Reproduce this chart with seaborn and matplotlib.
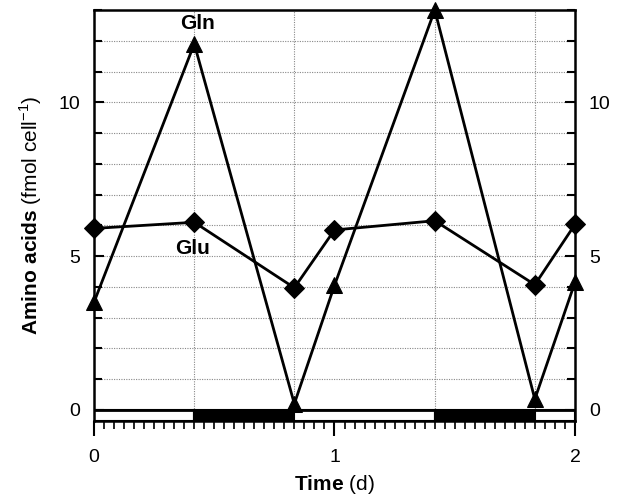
import numpy as np
import pandas as pd
import matplotlib
matplotlib.use("Agg")
import matplotlib.pyplot as plt
from matplotlib.ticker import MultipleLocator, FixedLocator
import seaborn as sns

# ---- data ----
time_d = [0.0, 0.417, 0.833, 1.0, 1.417, 1.833, 2.0]
gln = [3.5, 11.9, 0.2, 4.05, 13.0, 0.35, 4.15]
glu = [5.9, 6.1, 3.97, 5.85, 6.15, 4.07, 6.03]

# light/dark periods (start, end, dark?)
period_start = [0.0, 0.417, 0.833, 1.417, 1.833]
period_end = [0.417, 0.833, 1.417, 1.833, 2.0]
period_dark = [False, True, False, True, False]

y_ticks = [0, 5, 10]
x_ticks = [0, 1, 2]

sns.set_style("ticks")
plt.rcParams['font.family'] = ['Liberation Sans', 'DejaVu Sans']
plt.rcParams['mathtext.fontset'] = 'custom'
plt.rcParams['mathtext.rm'] = 'Liberation Sans'
plt.rcParams['mathtext.bf'] = 'Liberation Sans:bold'
for k in ['text.color', 'axes.labelcolor', 'xtick.color', 'ytick.color', 'axes.edgecolor']:
    plt.rcParams[k] = 'black'

fig = plt.figure(figsize=(6.17, 4.98), dpi=100)
ax = fig.add_axes([94/617, 1 - 421/498, (575-94)/617, (421-10)/498])

ymin, ymax = -0.36, 13.0
ax.set_xlim(0, 2)
ax.set_ylim(ymin, ymax)

# grid
for yy in range(1, 13):
    ax.axhline(yy, color='#888888', lw=0.8, ls=(0, (1, 1.2)), zorder=0)
for xx in period_start[1:]:
    ax.axvline(xx, color='#888888', lw=0.8, ls=(0, (1, 1.2)), zorder=0)

# light/dark bar
df_p = pd.DataFrame({"start": period_start, "end": period_end, "dark": period_dark})
ax.bar(df_p["start"], -ymin, bottom=ymin, width=df_p["end"] - df_p["start"], align='edge',
       color=['black' if d else 'white' for d in df_p["dark"]], edgecolor='black', lw=1.5, zorder=2)
ax.axhline(0, color='black', lw=2.0, zorder=3)

df = pd.DataFrame({"t": time_d, "Gln": gln, "Glu": glu})
sns.lineplot(data=df, x="t", y="Glu", ax=ax, color='black', lw=2.0, marker='D',
             markersize=10, markeredgecolor='black', zorder=5, clip_on=False)
sns.lineplot(data=df, x="t", y="Gln", ax=ax, color='black', lw=2.0, marker='^',
             markersize=12, markeredgecolor='black', zorder=6, clip_on=False)

ax.text(0.43, 12.55, "Gln", fontsize=15, fontweight='bold', ha='center', va='center')
ax.text(0.41, 5.25, "Glu", fontsize=15, fontweight='bold', ha='center', va='center')

# ticks
ax.xaxis.set_major_locator(FixedLocator(x_ticks))
ax.xaxis.set_minor_locator(MultipleLocator(1/24))
ax.yaxis.set_major_locator(FixedLocator(y_ticks))
ax.yaxis.set_minor_locator(MultipleLocator(1))
ax.tick_params(axis='x', which='major', direction='out', length=11, width=1.5, labelsize=14, pad=9)
ax.tick_params(axis='x', which='minor', direction='out', length=6, width=1.2)
ax.tick_params(axis='y', which='both', direction='in', left=True, right=True,
               labelleft=True, labelright=True, length=7, width=1.5, labelsize=14, pad=10)
ax.tick_params(axis='y', which='minor', length=6)

for s in ax.spines.values():
    s.set_linewidth(1.8)
    s.set_color('black')

ax.set_xlabel(r"$\bf{Time}$ (d)", fontsize=15, labelpad=5)
ax.set_ylabel(r"$\bf{Amino\ acids}$ (fmol cell$^{-1}$)", fontsize=15, labelpad=10)

fig.savefig("out.png", dpi=100)
